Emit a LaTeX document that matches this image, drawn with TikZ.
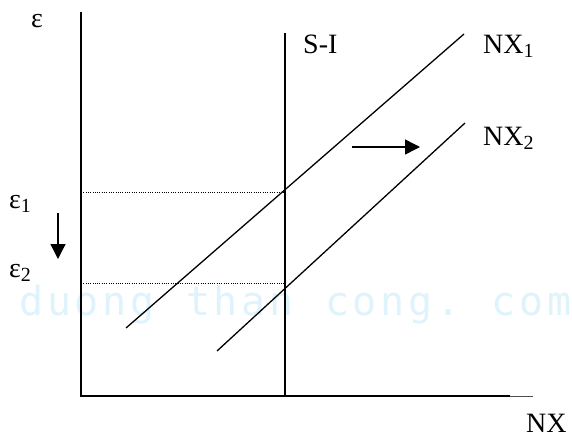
\documentclass[tikz,border=0pt]{standalone}
\usepackage{fontspec}
\setmainfont{Liberation Serif}
\newfontfamily\wmfont{DejaVu Sans Mono}
\usetikzlibrary{arrows.meta}
\definecolor{wmblue}{RGB}{222,243,252}
\tikzset{
  axisline/.style={line width=1.5pt, black},
  curveline/.style={line width=1.3pt, black},
  guideline/.style={line width=0.9pt, black, dash pattern=on 1pt off 1.3pt},
  shiftarrow/.style={line width=1.4pt, -{Triangle[length=15pt,width=15pt]}},
  lbl/.style={anchor=base west, inner sep=0pt, text depth=0pt, font=\fontsize{28}{30}\selectfont},
  wm/.style={anchor=base west, inner sep=0pt, text depth=0pt, text=wmblue, font=\wmfont\fontsize{40}{40}\selectfont},
}
\newcommand{\subsc}[1]{{\fontsize{20}{20}\selectfont\raisebox{-4pt}{#1}}}
\begin{document}
\begin{tikzpicture}[x=1pt,y=-1pt]
\useasboundingbox (0,0) rectangle (572,439);
% watermark
\foreach \c [count=\i from 0] in {d,u,o,n,g,{},t,h,a,n,{},c,o,n,g,.,{},c,o,m}{
  \node[wm] (wm\i) at ({19+27.8*\i},315) {\c};
}
% coordinates
\coordinate (ytop) at (81,12);
\coordinate (orig) at (81,396);
\coordinate (xend) at (510,396);
\coordinate (xthin) at (533,396);
\coordinate (sitop) at (285,33);
\coordinate (sibot) at (285,396);
\coordinate (nxa1) at (126,328);
\coordinate (nxa2) at (464,34);
\coordinate (nxb1) at (217,351);
\coordinate (nxb2) at (465,123);
\coordinate (e1l) at (81,192);
\coordinate (e1r) at (285,192);
\coordinate (e2l) at (81,283);
\coordinate (e2r) at (285,283);
\coordinate (dna) at (58,213);
\coordinate (dnb) at (58,259);
\coordinate (rta) at (352,147);
\coordinate (rtb) at (420,147);
% axes
\draw[axisline] (ytop) -- (orig) -- (xend);
\draw[line width=0.8pt, black!70] (xend) -- (xthin);
\draw[curveline] (sitop) -- (sibot);
% guide lines
\draw[guideline] (e1l) -- (e1r);
\draw[guideline] (e2l) -- (e2r);
% NX curves
\draw[curveline] (nxa1) -- (nxa2);
\draw[curveline] (nxb1) -- (nxb2);
% arrows
\draw[shiftarrow] (dna) -- (dnb);
\draw[shiftarrow] (rta) -- (rtb);
% labels
\node[lbl] (leps) at (31,27) {ε};
\node[lbl] (le1) at (9,208) {ε\subsc{1}};
\node[lbl] (le2) at (9,277) {ε\subsc{2}};
\node[lbl] (lsi) at (303,53) {S-I};
\node[lbl] (lnx1) at (483,53) {NX\subsc{1}};
\node[lbl] (lnx2) at (483,145) {NX\subsc{2}};
\node[lbl] (lnx) at (526,432) {NX};
\end{tikzpicture}
\end{document}
